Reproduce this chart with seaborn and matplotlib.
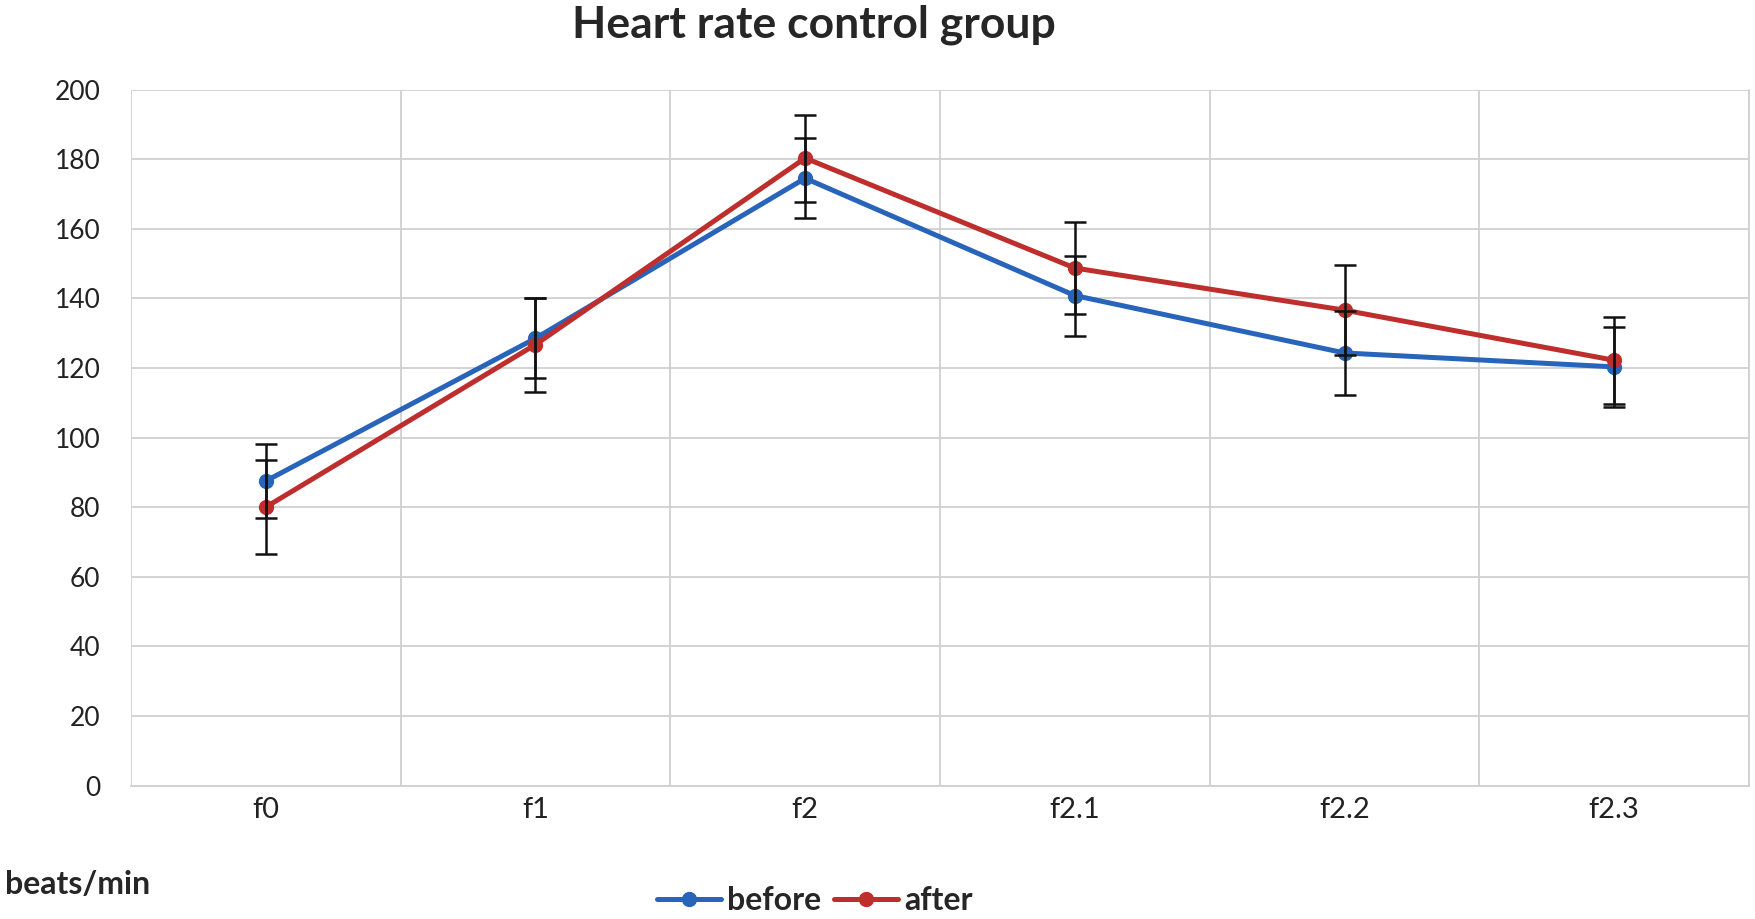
import numpy as np
import pandas as pd
import matplotlib
matplotlib.use("Agg")
import matplotlib.pyplot as plt
import seaborn as sns
from matplotlib.lines import Line2D

stages = ["f0", "f1", "f2", "f2.1", "f2.2", "f2.3"]
before = [87.5, 128.5, 174.5, 140.8, 124.3, 120.3]
before_err = [10.5, 11.5, 11.5, 11.5, 12.0, 11.5]
after = [80.0, 126.7, 180.3, 148.7, 136.6, 122.2]
after_err = [13.5, 13.5, 12.5, 13.2, 13.0, 12.5]

BLUE = "#2864BA"
RED = "#BE2E2C"

sns.set_style("white")
plt.rcParams["font.family"] = ["Lato", "DejaVu Sans"]

df = pd.DataFrame({
    "pos": list(range(len(stages))) * 2,
    "value": before + after,
    "group": ["before"] * len(stages) + ["after"] * len(stages),
})

fig = plt.figure(figsize=(17.55, 9.19), dpi=100)
ax = fig.add_axes([0.0746, 0.1452, 0.922, 0.7574])

sns.lineplot(data=df, x="pos", y="value", hue="group",
             palette={"before": BLUE, "after": RED},
             marker="o", markersize=11, markeredgewidth=0,
             linewidth=3.6, legend=False, ax=ax, zorder=3)

x = np.arange(len(stages))
for vals, errs in [(before, before_err), (after, after_err)]:
    ax.errorbar(x, vals, yerr=errs, fmt="none", ecolor="#111111",
                elinewidth=1.8, capsize=8, capthick=1.8, zorder=4)

ax.set_xlim(-0.5, len(stages) - 0.5)
ax.set_ylim(0, 200)
ax.set_yticks(range(0, 201, 20))
ax.set_xticks(x)
ax.set_xticklabels(stages)
ax.set_xticks(np.arange(-0.5, len(stages), 1.0), minor=True)
ax.grid(axis="y", color="#d0d0d0", linewidth=1.3)
ax.grid(axis="x", which="minor", color="#d0d0d0", linewidth=1.3)
ax.grid(axis="x", which="major", visible=False)
for s in ["top", "left"]:
    ax.spines[s].set_visible(False)
for s in ["bottom", "right"]:
    ax.spines[s].set_color("#d0d0d0")
    ax.spines[s].set_linewidth(1.3)
ax.tick_params(axis="both", which="both", length=0)
ax.tick_params(axis="y", labelsize=19, pad=22, colors="#222222")
ax.tick_params(axis="x", labelsize=21, pad=8, colors="#222222")
ax.set_xlabel("")
ax.set_ylabel("")

fig.text(0.4635, 0.973, "Heart rate control group", ha="center", va="center",
         fontsize=32, fontweight="bold")
fig.text(0.003, 0.037, "beats/min", ha="left", va="center",
         fontsize=23, fontweight="bold")

handles = [
    Line2D([0], [0], color=BLUE, linewidth=3.6, marker="o", markersize=10),
    Line2D([0], [0], color=RED, linewidth=3.6, marker="o", markersize=10),
]
leg = fig.legend(handles, ["before", "after"], loc="center",
                 bbox_to_anchor=(0.4645, 0.02), ncol=2, frameon=False,
                 handlelength=2.0, handletextpad=0.2, columnspacing=0.4,
                 prop={"weight": "bold", "size": 23})

fig.savefig("out.png", dpi=100)
